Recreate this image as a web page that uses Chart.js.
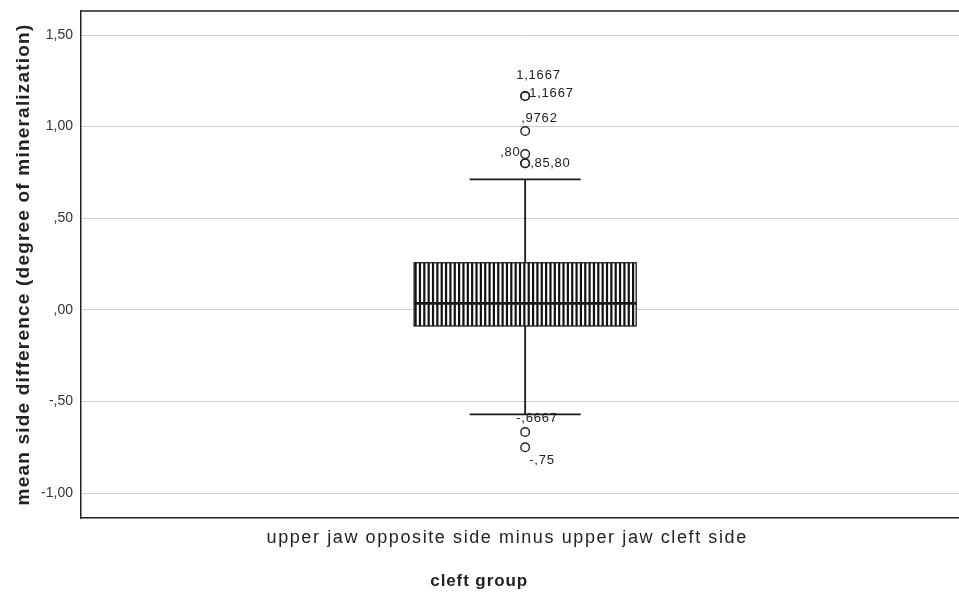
<!DOCTYPE html>
<html><head><meta charset="utf-8">
<script src="https://cdn.jsdelivr.net/npm/chart.js@4/dist/chart.umd.min.js"></script>
<style>
html,body{margin:0;padding:0;overflow:hidden;background:#fff;width:959px;height:592px}
#wrap{position:absolute;left:0;top:0;width:975px;height:592px}
</style></head><body>
<div id="wrap"><canvas id="c"></canvas></div>
<script>
// ---- data ----
const categories = ['upper jaw opposite side minus upper jaw cleft side'];
const boxQ1 = [-0.088];
const boxQ3 = [0.257];
const medians = [0.035];
const whiskerLow = [-0.570];
const whiskerHigh = [0.712];
const outlierValues = [1.1667, 1.1667, 0.9762, 0.85, 0.80, 0.80, -0.6667, -0.75];
const outlierLabels = ['1,1667', '1,1667', ',9762', ',85', ',80', ',80', '-,6667', '-,75'];
const yTicks = [-1.0, -0.5, 0, 0.5, 1.0, 1.5];
const yMin = -1.136, yMax = 1.631;
const xTitle = 'cleft group';
const yTitle = 'mean side difference (degree of mineralization)';
// label placement (px offsets from each outlier point: text left edge, text middle)
const labelOffsets = [[-9,-21],[4,-3],[-4,-13],[5,9],[-25,-11],[25,0],[-9,-14],[4,13]];

const FONT = "'Liberation Sans', Arial, sans-serif";
Chart.defaults.font.family = FONT;

function spssFmt(v){
  let s = Math.abs(v).toFixed(2).replace('.', ',');
  if (s.startsWith('0,')) s = s.slice(1);
  return (v < 0 ? '-' : '') + s;
}

const boxPlugin = {
  id: 'boxPlugin',
  beforeDatasetsDraw(chart){
    const ctx = chart.ctx, y = chart.scales.y;
    const meta = chart.getDatasetMeta(0);
    meta.data.forEach((bar, i) => {
      const x = bar.x, half = bar.width / 4;
      ctx.save();
      ctx.strokeStyle = '#1a1a1a';
      ctx.lineWidth = 1.8;
      ctx.beginPath();
      ctx.moveTo(x, y.getPixelForValue(whiskerHigh[i]));
      ctx.lineTo(x, y.getPixelForValue(boxQ3[i]));
      ctx.moveTo(x, y.getPixelForValue(boxQ1[i]));
      ctx.lineTo(x, y.getPixelForValue(whiskerLow[i]));
      ctx.moveTo(x - half, y.getPixelForValue(whiskerHigh[i]));
      ctx.lineTo(x + half, y.getPixelForValue(whiskerHigh[i]));
      ctx.moveTo(x - half, y.getPixelForValue(whiskerLow[i]));
      ctx.lineTo(x + half, y.getPixelForValue(whiskerLow[i]));
      ctx.stroke();
      ctx.restore();
    });
  },
  afterDatasetDraw(chart, args){
    if (args.index !== 0) return;
    const ctx = chart.ctx, y = chart.scales.y;
    const meta = chart.getDatasetMeta(0);
    meta.data.forEach((bar, i) => {
      const left = bar.x - bar.width / 2, right = bar.x + bar.width / 2;
      const top = y.getPixelForValue(boxQ3[i]), bottom = y.getPixelForValue(boxQ1[i]);
      ctx.save();
      ctx.beginPath();
      ctx.rect(left, top, right - left, bottom - top);
      ctx.clip();
      ctx.strokeStyle = '#111';
      ctx.lineWidth = 2.2;
      ctx.beginPath();
      for (let xx = left + 1.5; xx < right; xx += 4.35) {
        ctx.moveTo(xx, top); ctx.lineTo(xx, bottom);
      }
      ctx.stroke();
      ctx.restore();
      ctx.save();
      ctx.strokeStyle = '#1a1a1a';
      ctx.lineWidth = 1.3;
      ctx.strokeRect(left, top, right - left, bottom - top);
      ctx.lineWidth = 2.8;
      ctx.beginPath();
      const my = y.getPixelForValue(medians[i]);
      ctx.moveTo(left, my); ctx.lineTo(right, my);
      ctx.stroke();
      ctx.restore();
    });
  },
  afterDraw(chart){
    const ctx = chart.ctx, a = chart.chartArea;
    ctx.save();
    // top frame line
    ctx.strokeStyle = '#555';
    ctx.lineWidth = 2;
    ctx.beginPath();
    ctx.moveTo(a.left, a.top); ctx.lineTo(a.right, a.top);
    ctx.stroke();
    // outlier labels
    const meta = chart.getDatasetMeta(1);
    ctx.fillStyle = '#222';
    ctx.font = "13px " + FONT;
    ctx.letterSpacing = '0.8px';
    ctx.textAlign = 'left';
    ctx.textBaseline = 'middle';
    meta.data.forEach((pt, i) => {
      const o = labelOffsets[i];
      ctx.fillText(outlierLabels[i], pt.x + o[0], pt.y + o[1]);
    });
    // category label and x title
    const xs = chart.scales.x;
    ctx.textAlign = 'center';
    ctx.font = "18px " + FONT;
    ctx.letterSpacing = '1.6px';
    ctx.fillStyle = '#222';
    categories.forEach((c, i) => {
      ctx.fillText(c, xs.getPixelForValue(i) - 18, a.bottom + 20);
    });
    ctx.font = "bold 17px " + FONT;
    ctx.letterSpacing = '0.9px';
    ctx.fillText(xTitle, xs.getPixelForValue(0) - 46, a.bottom + 63);
    // y axis title
    ctx.translate(24, (a.top + a.bottom) / 2);
    ctx.rotate(-Math.PI / 2);
    ctx.font = "bold 19px " + FONT;
    ctx.letterSpacing = '1.2px';
    ctx.fillText(yTitle, 0, 0);
    ctx.restore();
  }
};

new Chart(document.getElementById('c'), {
  type: 'bar',
  data: {
    labels: categories,
    datasets: [{
      data: categories.map((c, i) => [boxQ1[i], boxQ3[i]]),
      backgroundColor: '#ffffff',
      borderWidth: 0,
      barPercentage: 0.5,
      categoryPercentage: 0.5,
      order: 2
    }, {
      type: 'line',
      data: outlierValues.map(v => ({ x: categories[0], y: v })),
      showLine: false,
      pointRadius: 4.3,
      pointHoverRadius: 4.3,
      pointBorderWidth: 1.4,
      pointBorderColor: '#222',
      pointBackgroundColor: 'rgba(255,255,255,0)',
      order: 1
    }]
  },
  options: {
    responsive: true,
    maintainAspectRatio: false,
    animation: false,
    events: [],
    layout: { padding: { top: 11, right: 4, bottom: 0, left: 0 } },
    plugins: { legend: { display: false }, tooltip: { enabled: false } },
    scales: {
      x: {
        type: 'category',
        offset: true,
        grid: { display: false, drawTicks: false },
        border: { display: true, color: '#222', width: 1.5 },
        ticks: { display: false },
        afterFit(s){ s.height = 74; s.paddingLeft = 0; s.paddingRight = 0; }
      },
      y: {
        min: yMin, max: yMax,
        afterBuildTicks(s){ s.ticks = yTicks.map(v => ({ value: v })); },
        grid: { color: '#cccccc', lineWidth: 1, drawTicks: false },
        border: { display: true, color: '#222', width: 1.5 },
        ticks: {
          padding: 8,
          color: '#333',
          font: { size: 14 },
          callback: (v) => spssFmt(v)
        },
        title: { display: false },
        afterFit(s){ s.width = 81; s.paddingTop = 0; s.paddingBottom = 0; }
      }
    }
  },
  plugins: [boxPlugin]
});
</script>
</body></html>
